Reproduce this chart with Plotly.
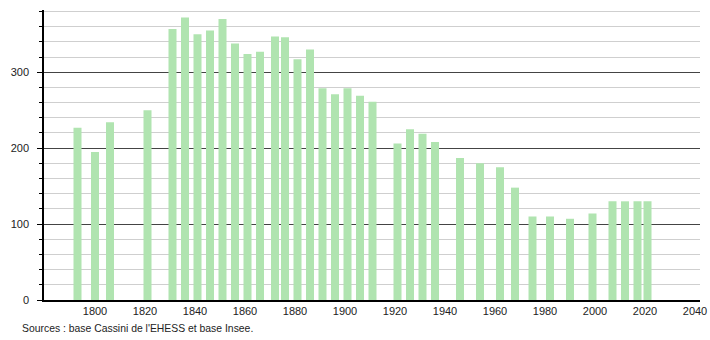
import plotly.graph_objects as go

years = [1793, 1800, 1806, 1821, 1831, 1836, 1841, 1846, 1851, 1856, 1861, 1866,
         1872, 1876, 1881, 1886, 1891, 1896, 1901, 1906, 1911, 1921, 1926, 1931,
         1936, 1946, 1954, 1962, 1968, 1975, 1982, 1990, 1999, 2007, 2012, 2017, 2021]
population = [227, 195, 234, 250, 357, 372, 350, 355, 370, 338, 324, 327,
              347, 346, 317, 330, 279, 271, 279, 269, 261, 206, 225, 219,
              208, 187, 180, 175, 148, 110, 110, 107, 114, 130, 130, 130, 130]
x_ticks = [1800, 1820, 1840, 1860, 1880, 1900, 1920, 1940, 1960, 1980, 2000, 2020, 2040]
y_ticks = [0, 100, 200, 300]
source_text = "Sources : base Cassini de l'EHESS et base Insee."

fig = go.Figure()
fig.add_trace(go.Bar(
    x=years, y=population, width=3.2,
    marker=dict(color="rgb(176,228,176)", line=dict(width=0)),
    hoverinfo="x+y",
))

fig.update_layout(
    width=710, height=340,
    margin=dict(l=44, r=10, t=10, b=40),
    paper_bgcolor="white", plot_bgcolor="white",
    showlegend=False,
    font=dict(family="Liberation Sans, Arial, sans-serif", size=11, color="#222"),
    xaxis=dict(
        range=[1779.6, 2042], tickvals=x_ticks, ticks="", showgrid=False,
        showline=True, linecolor="#000", linewidth=1.5, zeroline=False,
        tickfont=dict(size=11), automargin=False,
    ),
    yaxis=dict(
        range=[0, 382], tickvals=y_ticks, ticks="outside", ticklen=5,
        tickcolor="#000", showline=True, linecolor="#000", linewidth=1.5,
        showgrid=True, gridcolor="#444", gridwidth=1, zeroline=False,
        minor=dict(dtick=20, showgrid=True, gridcolor="#cfcfcf", gridwidth=1,
                   ticks="outside", ticklen=3, tickcolor="#000"),
        tickfont=dict(size=11), automargin=False, ticklabelstandoff=6,
    ),
    annotations=[dict(
        text=source_text, xref="paper", yref="paper",
        x=(20 - 44) / 656, y=(300 - 328) / 290, xanchor="left", yanchor="middle",
        showarrow=False, font=dict(size=10.4, color="#222"),
    )],
)

fig.write_html("out.html")
